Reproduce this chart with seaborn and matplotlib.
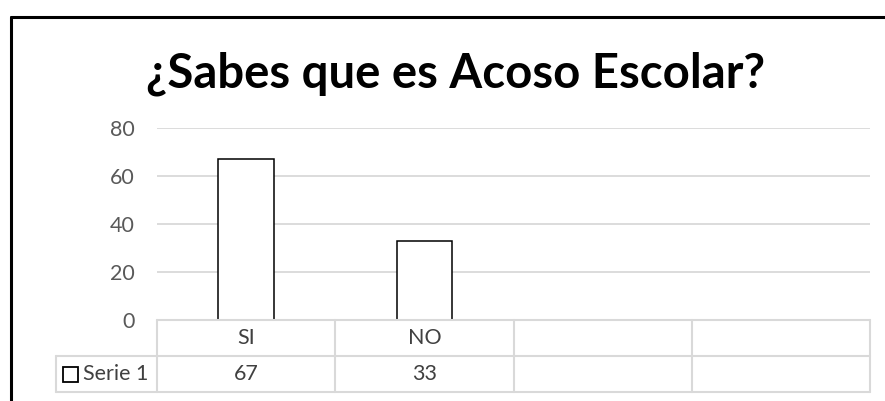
import matplotlib
matplotlib.use("Agg")
import matplotlib.pyplot as plt
from matplotlib.lines import Line2D
from matplotlib.patches import Rectangle
import seaborn as sns
import pandas as pd

# data
title = "¿Sabes que es Acoso Escolar?"
categories = ["SI", "NO"]
values = [67, 33]
series_name = "Serie 1"
n_slots = 4
y_ticks = [0, 20, 40, 60, 80]

W, H = 885, 401
sns.set_style("white")
plt.rcParams["font.family"] = ["Lato", "DejaVu Sans"]

fig = plt.figure(figsize=(W / 100, H / 100), dpi=100)


def fx(px):
    return px / W


def fy(py):
    # pixel from top -> figure fraction
    return 1 - py / H


# plot area
ax = fig.add_axes([fx(157), fy(320), fx(870 - 157), (320 - 128) / H])
df = pd.DataFrame({"cat": categories, "val": values})
sns.barplot(data=df, x="cat", y="val", order=categories, color="white",
            edgecolor="black", linewidth=1.1, width=0.31, saturation=1, ax=ax)
ax.set_xlim(-0.5, n_slots - 0.5)
ax.set_ylim(0, y_ticks[-1])
ax.set_yticks(y_ticks)
ax.set_xticks([])
ax.set_xlabel("")
ax.set_ylabel("")
ax.yaxis.grid(True, color="#d9d9d9", linewidth=1.3)
ax.set_axisbelow(True)
for s in ax.spines.values():
    s.set_visible(False)
ax.tick_params(axis="y", length=0, pad=16, labelsize=15.5, labelcolor="#595959")

# title
fig.text(fx(456), fy(74), title, ha="center", va="center",
         fontsize=34, fontweight="bold", color="black")

# data table
grid_c = "#d9d9d9"
lw = 1.5
xb = [ax.transData.transform((i - 0.5, 0))[0] / W for i in range(n_slots + 1)]
y_top, y_mid, y_bot = fy(320), fy(356), fy(392)
x_lab = fx(56)


def hline(x0, x1, y):
    fig.add_artist(Line2D([x0, x1], [y, y], color=grid_c, lw=lw, zorder=5))


def vline(x, y0, y1):
    fig.add_artist(Line2D([x, x], [y0, y1], color=grid_c, lw=lw, zorder=5))


hline(xb[0], xb[-1], y_top)
hline(x_lab, xb[-1], y_mid)
hline(x_lab, xb[-1], y_bot)
vline(x_lab, y_mid, y_bot)
for x in xb:
    vline(x, y_top, y_bot)

for i in range(len(categories)):
    xc = (xb[i] + xb[i + 1]) / 2
    fig.text(xc, (y_top + y_mid) / 2, categories[i], ha="center", va="center",
             fontsize=15.5, color="#404040")
    fig.text(xc, (y_mid + y_bot) / 2, str(values[i]), ha="center", va="center",
             fontsize=15.5, color="#404040")

# legend key + series name
fig.add_artist(Rectangle((fx(63), fy(382)), fx(15), 15 / H, facecolor="white",
                         edgecolor="black", lw=1.3))
fig.text(fx(83), (y_mid + y_bot) / 2, series_name, ha="left", va="center",
         fontsize=15.5, color="#404040")

# chart border (top and left)
fig.add_artist(Line2D([fx(11), 1], [fy(16.5), fy(16.5)], color="black", lw=2.2))
fig.add_artist(Line2D([fx(11), fx(11)], [fy(16.5), 0], color="black", lw=2.2))

fig.savefig("out.png", dpi=100)
